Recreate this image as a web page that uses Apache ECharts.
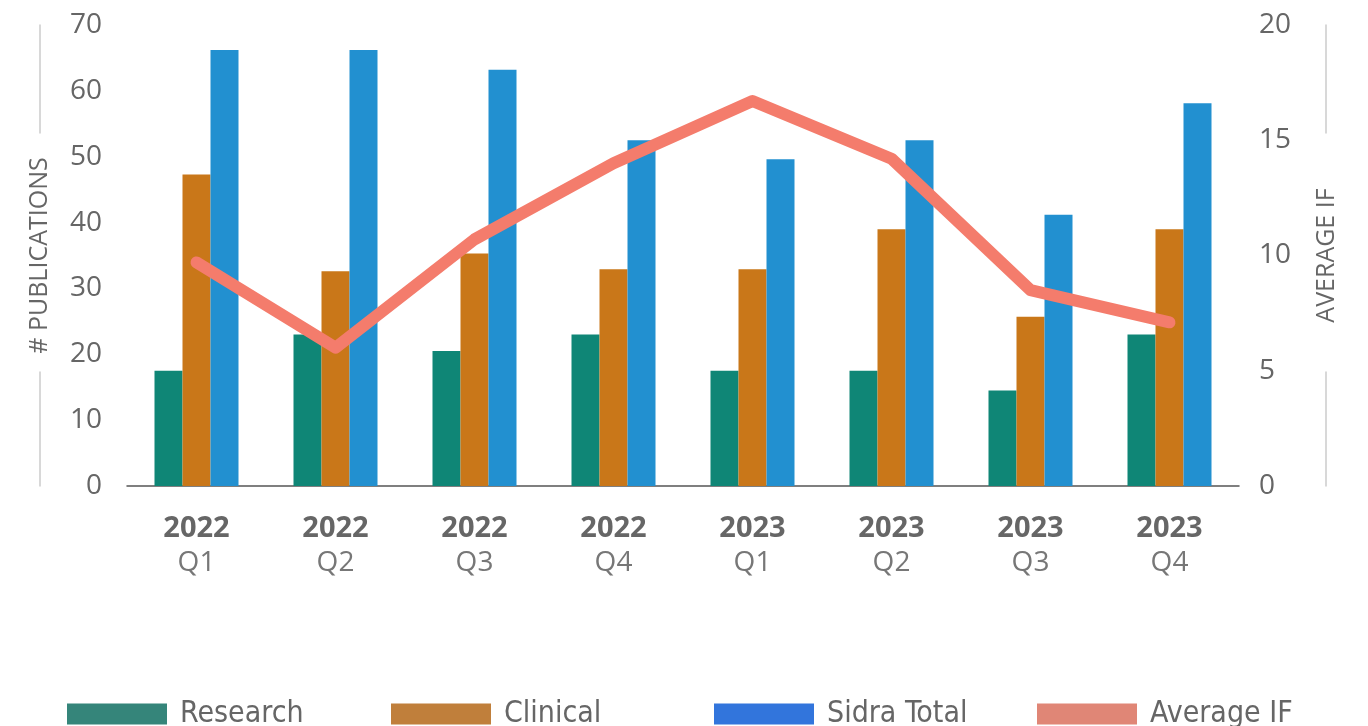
<!DOCTYPE html>
<html>
<head>
<meta charset="utf-8">
<script src="https://cdn.jsdelivr.net/npm/echarts@6/dist/echarts.min.js"></script>
<style>
    html, body { margin: 0; padding: 0; background: #fff; }
    #chart { width: 1368px; height: 726px; }
</style>
</head>
<body>
<div id="chart"></div>
<script>
    // data
    var years = ['2022', '2022', '2022', '2022', '2023', '2023', '2023', '2023'];
    var quarters = ['Q1', 'Q2', 'Q3', 'Q4', 'Q1', 'Q2', 'Q3', 'Q4'];
    var research = [17.5, 23, 20.5, 23, 17.5, 17.5, 14.5, 23];
    var clinical = [47.3, 32.6, 35.3, 32.9, 32.9, 39, 25.7, 39];
    var sidraTotal = [66.2, 66.2, 63.2, 52.5, 49.6, 52.5, 41.2, 58.1];
    var averageIF = [9.7, 6.0, 10.7, 14.0, 16.7, 14.2, 8.5, 7.1];
    var leftTicks = [0, 70, 10];
    var rightTicks = [0, 20, 5];
    var legendNames = ['Research', 'Clinical', 'Sidra Total', 'Average IF'];
    var legendColors = ['#35857a', '#c07f3b', '#3275dc', '#e08676'];
    var legendLefts = [67, 391, 714, 1037];

    var categories = years.map(function (y, i) { return y + '\n' + quarters[i]; });

    var chart = echarts.init(document.getElementById('chart'));
    var font = '"Open Sans", "Noto Sans", sans-serif';

    // one legend per item so each sits at its own column
    var legends = legendNames.map(function (n, i) {
        return {
            left: legendLefts[i],
            top: 699,
            padding: 0,
            itemWidth: 100,
            itemHeight: 21,
            icon: 'rect',
            selectedMode: false,
            textStyle: {
                fontFamily: '"Liberation Sans Narrow", "DejaVu Sans Condensed", sans-serif',
                fontSize: 30,
                color: '#666',
                padding: [0, 0, 0, 8]
            },
            data: [{ name: n, itemStyle: { color: legendColors[i] } }]
        };
    });

    // the outer axis line is broken where the name sits: done with a dash pattern
    function sideAxis(name, ticks, pos, margin) {
        return {
            type: 'value',
            min: ticks[0], max: ticks[1], interval: ticks[2],
            position: pos,
            offset: 87,
            name: name,
            nameLocation: 'middle',
            nameGap: -12,
            nameMoveOverlap: false,
            nameRotate: 90,
            nameTextStyle: { fontFamily: font, fontSize: 25, color: '#666' },
            axisLine: { show: true, lineStyle: { color: '#ccc', width: 1.5, type: [114, 239, 110, 1000] } },
            axisTick: { show: false },
            splitLine: { show: false },
            axisLabel: { margin: margin, fontFamily: font, fontSize: 28, color: '#666' }
        };
    }

    var option = {
        backgroundColor: '#ffffff',
        animation: false,
        grid: { left: 127, right: 129, top: 25, bottom: 240 },
        legend: legends,
        xAxis: {
            type: 'category',
            data: categories,
            axisLine: { lineStyle: { color: '#555', width: 1.5 } },
            axisTick: { show: false },
            axisLabel: {
                margin: 25,
                formatter: function (v) {
                    var p = v.split('\n');
                    return '{y|' + p[0] + '}\n{q|' + p[1] + '}';
                },
                rich: {
                    y: { fontFamily: font, fontSize: 29, fontWeight: 'bold', color: '#666', lineHeight: 35 },
                    q: { fontFamily: font, fontSize: 28, color: '#777', lineHeight: 35 }
                }
            }
        },
        yAxis: [
            sideAxis('# PUBLICATIONS', leftTicks, 'left', -62),
            sideAxis('AVERAGE IF', rightTicks, 'right', -67)
        ],
        series: [
            {
                name: 'Research', type: 'bar', data: research,
                barWidth: 28, barGap: '0%',
                itemStyle: { color: '#0f8676' }
            },
            {
                name: 'Clinical', type: 'bar', data: clinical,
                barWidth: 28, barGap: '0%',
                itemStyle: { color: '#c97719' }
            },
            {
                name: 'Sidra Total', type: 'bar', data: sidraTotal,
                barWidth: 28, barGap: '0%',
                itemStyle: { color: '#2290d0' }
            },
            {
                name: 'Average IF', type: 'line', data: averageIF,
                yAxisIndex: 1,
                symbol: 'none',
                lineStyle: { color: '#f47c6c', width: 12, cap: 'round', join: 'round' },
                itemStyle: { color: '#f47c6c' }
            }
        ]
    };

    chart.setOption(option);
</script>
</body>
</html>
